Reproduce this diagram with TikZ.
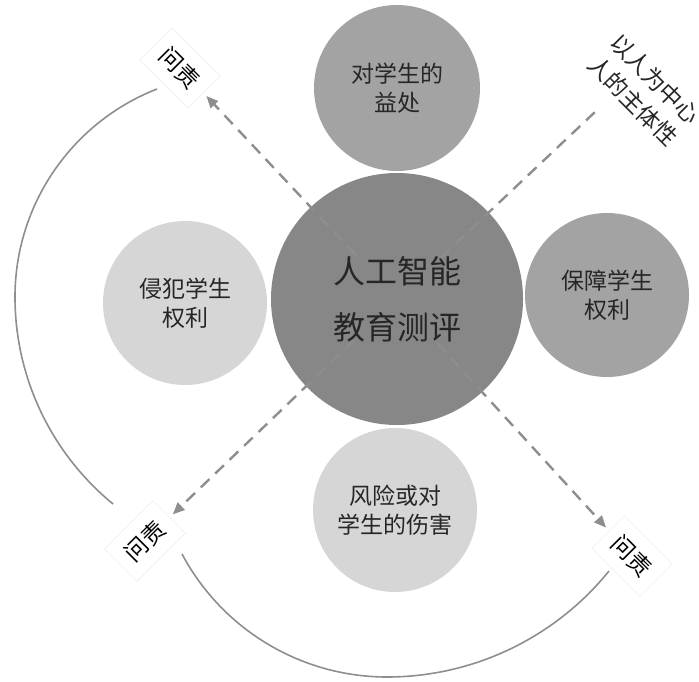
\documentclass[tikz,border=0pt]{standalone}
\usepackage{fontspec}
\usepackage{tikz}
\usetikzlibrary{arrows.meta,calc}
\newfontfamily\cjk{Noto Sans CJK SC}
\definecolor{dgray}{HTML}{878787}
\definecolor{mgray}{HTML}{A3A3A3}
\definecolor{lgray}{HTML}{D6D6D6}
\definecolor{lngray}{HTML}{8E8E8E}

\begin{document}
\begin{tikzpicture}[x=0.5pt,y=0.5pt,
  disc/.style={circle,minimum size=82pt,inner sep=0pt,align=center,text=black!85,
    font=\cjk\fontsize{11.5}{14.5}\selectfont},
  accbox/.style={draw=black!5,fill=white,minimum width=34pt,minimum height=23pt,
    inner sep=0pt,font=\cjk\fontsize{11.5}{14}\selectfont},
  dashline/.style={lngray,line width=1.2pt,dash pattern=on 6pt off 4pt},
  arcline/.style={lngray,line width=0.8pt}]
\useasboundingbox (0,0) rectangle (699,681);

% circles
\node[disc,fill=dgray,minimum size=126pt,font=\cjk\fontsize{16}{28}\selectfont] (ai) at (397,382) {人工智能\\教育测评};
\node[disc,fill=mgray,minimum size=83pt] (benefit) at (397,593) {对学生的\\益处};
\node[disc,fill=lgray] (infringe) at (185,378) {侵犯学生\\权利};
\node[disc,fill=mgray] (protect) at (607,386) {保障学生\\权利};
\node[disc,fill=lgray] (risk) at (395,171) {风险或对\\学生的伤害};

% accountability boxes
\node[accbox,rotate=-45] (accA) at (180,613) {问责};
\node[accbox,rotate=45] (accB) at (145,140) {问责};
\node[accbox,rotate=-45] (accC) at (632,125) {问责};
\node[rotate=-45,align=center,font=\cjk\fontsize{11.5}{15.5}\selectfont,text=black!85] (human) at (644,591) {以人为中心\\人的主体性};
\coordinate (humend) at (595,569);

\draw[arcline] ([shift={(-23,-21)}]accA.center) arc[start angle=111.35,end angle=180,radius=223.3]
  arc[start angle=180,end angle=230.7,radius=267.6];
\draw[arcline] ([shift={(37,-13)}]accB.center) arc[start angle=208.07,end angle=270,radius=232.3]
  arc[start angle=270,end angle=321.04,radius=285.5];

\draw[dashline,-{Triangle[length=6pt,width=5pt]},shorten >=2pt] ($(ai.center)!30pt!(accA)$) -- (accA);
\draw[dashline,-{Triangle[length=6pt,width=5pt]},shorten >=2pt] ($(ai.center)!30pt!(accB)$) -- (accB);
\draw[dashline,-{Triangle[length=6pt,width=5pt]},shorten >=2pt] ($(ai.center)!30pt!(accC)$) -- (accC);
\draw[dashline] ($(ai.center)!30pt!(humend)$) -- (humend);

\end{tikzpicture}
\end{document}
